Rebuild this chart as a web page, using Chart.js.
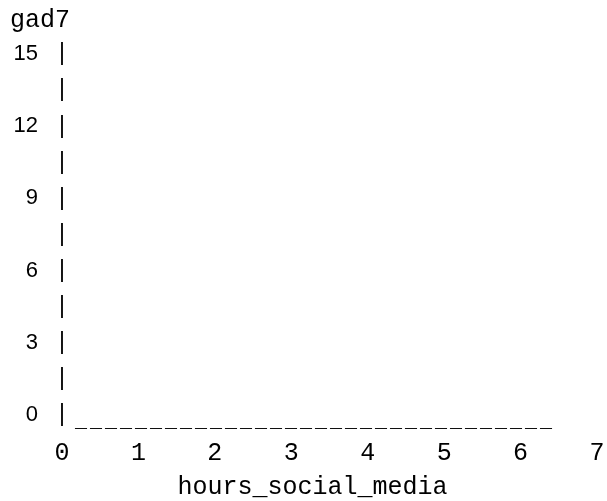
<!DOCTYPE html>
<html>
<head>
<meta charset="utf-8">
<title>gad7 vs hours_social_media</title>
<script src="https://cdn.jsdelivr.net/npm/chart.js@4.4.1/dist/chart.umd.min.js"></script>
<style>
  html, body { margin: 0; padding: 0; background: #fff; }
  #wrap { width: 607px; height: 501px; }
</style>
</head>
<body>
<div id="wrap"><canvas id="plot" width="607" height="501"></canvas></div>
<script>
// axis labels and ticks
const xLabel = 'hours_social_media';
const yLabel = 'gad7';
const xTicks = [0, 1, 2, 3, 4, 5, 6, 7];
const yTicks = [0, 3, 6, 9, 12, 15];
// rows of the y axis where a "|" is printed
const barRows = [0, 1.5, 3, 4.5, 6, 7.5, 9, 10.5, 12, 13.5, 15];
// the plot shows no observations
const points = [];

const MONO = '"Liberation Mono", "DejaVu Sans Mono", monospace';
const SANS = '"Liberation Sans", Arial, sans-serif';

// draws the text-style axes: "|" down the y axis, "____" along the bottom row,
// and the x label centred under the text columns (not the chart area)
const asciiAxes = {
    id: 'asciiAxes',
    afterDraw(chart) {
        const ctx = chart.ctx;
        const y = chart.scales.y;
        const left = chart.chartArea.left;
        ctx.save();
        ctx.fillStyle = '#000';
        ctx.font = '23px ' + SANS;
        ctx.textAlign = 'center';
        ctx.textBaseline = 'middle';
        barRows.forEach(v => ctx.fillText('|', left, y.getPixelForValue(v)));

        // one underscore per text column, 15px apart
        ctx.font = 'bold 20px ' + MONO;
        ctx.textAlign = 'left';
        ctx.textBaseline = 'alphabetic';
        const base = y.getPixelForValue(0) + 12;
        for (let i = 0; i < 32; i++) {
            ctx.fillText('_', left + 13 + i * 15, base);
        }

        ctx.font = '25px ' + MONO;
        ctx.textAlign = 'center';
        ctx.textBaseline = 'middle';
        ctx.fillText(xLabel, chart.width / 2 + 9, chart.height - 14);
        ctx.restore();
    }
};

new Chart(document.getElementById('plot'), {
    type: 'scatter',
    data: {
        datasets: [{
            label: yLabel,
            data: points,
            pointRadius: 3,
            backgroundColor: '#000'
        }]
    },
    options: {
        responsive: false,
        animation: false,
        devicePixelRatio: 1,
        layout: { padding: { left: 10, right: 10, top: 0, bottom: 0 } },
        plugins: {
            legend: { display: false },
            tooltip: { enabled: false },
            title: {
                display: true,
                text: yLabel,
                align: 'start',
                color: '#000',
                font: { family: MONO, size: 25, weight: 'normal' },
                padding: { top: 5, bottom: 19 }
            }
        },
        scales: {
            x: {
                type: 'linear',
                min: 0,
                max: 7,
                afterBuildTicks: s => { s.ticks = xTicks.map(v => ({ value: v })); },
                afterFit: s => {
                    s.height = 86;
                    s.paddingLeft = 0;
                    s.paddingRight = 0;
                },
                grid: { display: false, drawTicks: false },
                border: { display: false },
                ticks: {
                    color: '#000',
                    padding: 23,
                    maxRotation: 0,
                    autoSkip: false,
                    font: { family: MONO, size: 25 }
                },
                title: { display: false, text: xLabel }
            },
            y: {
                type: 'linear',
                min: 0,
                max: 15,
                afterBuildTicks: s => { s.ticks = yTicks.map(v => ({ value: v })); },
                afterFit: s => {
                    s.width = 52;
                    s.paddingTop = 0;
                    s.paddingBottom = 0;
                },
                grid: { display: false, drawTicks: false },
                border: { display: false },
                ticks: {
                    color: '#000',
                    padding: 24,
                    autoSkip: false,
                    font: { family: SANS, size: 22 }
                }
            }
        }
    },
    plugins: [asciiAxes]
});
</script>
</body>
</html>
